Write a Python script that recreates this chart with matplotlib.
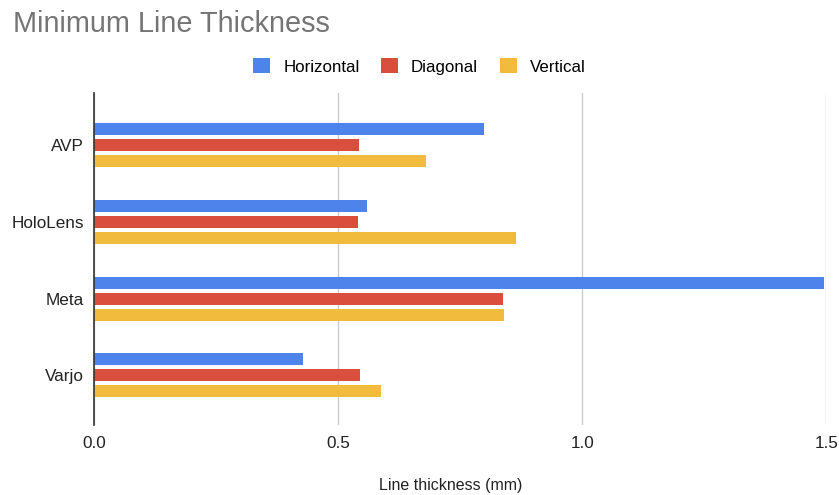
import matplotlib
matplotlib.use("Agg")
import matplotlib.pyplot as plt
import numpy as np

plt.rcParams['font.family'] = ['Liberation Sans', 'DejaVu Sans']

devices = ["AVP", "HoloLens", "Meta", "Varjo"]
horizontal = [0.798, 0.560, 1.495, 0.429]
diagonal = [0.543, 0.540, 0.837, 0.545]
vertical = [0.679, 0.864, 0.840, 0.587]
series_names = ["Horizontal", "Diagonal", "Vertical"]
colors = ["#4E83EC", "#DA4E3E", "#F1BB3D"]
x_ticks = [0.0, 0.5, 1.0, 1.5]

fig = plt.figure(figsize=(8.39, 4.95), dpi=100)
ax = fig.add_axes([0.112, 0.141, 0.873, 0.671])

y = np.arange(len(devices))
step = 0.208
bar_h = 0.156
for i, (vals, name, c) in enumerate(zip([horizontal, diagonal, vertical], series_names, colors)):
    ax.barh(y + (i - 1) * step, vals, height=bar_h, color=c, label=name, zorder=3)

ax.set_xlim(0, 1.5)
ax.set_ylim(3.65, -0.68)
ax.set_xticks(x_ticks)
ax.set_xticklabels([f"{t:.1f}" for t in x_ticks], fontsize=12.3, color="#222222")
ax.set_yticks(y)
ax.set_yticklabels(devices, fontsize=12.3, color="#222222")
ax.tick_params(axis='y', length=0, pad=7)
ax.tick_params(axis='x', length=0, pad=8)
ax.xaxis.grid(True, color="#cccccc", linewidth=1, zorder=0)
for s in ["top", "right", "bottom"]:
    ax.spines[s].set_visible(False)
ax.spines["left"].set_color("#333333")
ax.spines["left"].set_linewidth(1.2)
ax.spines["left"].set_zorder(4)

fig.text(0.5375, 0.02, "Line thickness (mm)", fontsize=11.5, color="#222222",
         ha="center", va="center")

fig.text(0.015, 0.951, "Minimum Line Thickness", fontsize=20.8, color="#757575",
         ha="left", va="center")

handles, labels = ax.get_legend_handles_labels()
fig.legend(handles, labels, loc="center", bbox_to_anchor=(0.5, 0.866), ncol=3,
           frameon=False, fontsize=12.2, handlelength=1.0, handleheight=1.0,
           handletextpad=0.75, columnspacing=1.3)

fig.savefig("out.png", dpi=100)
